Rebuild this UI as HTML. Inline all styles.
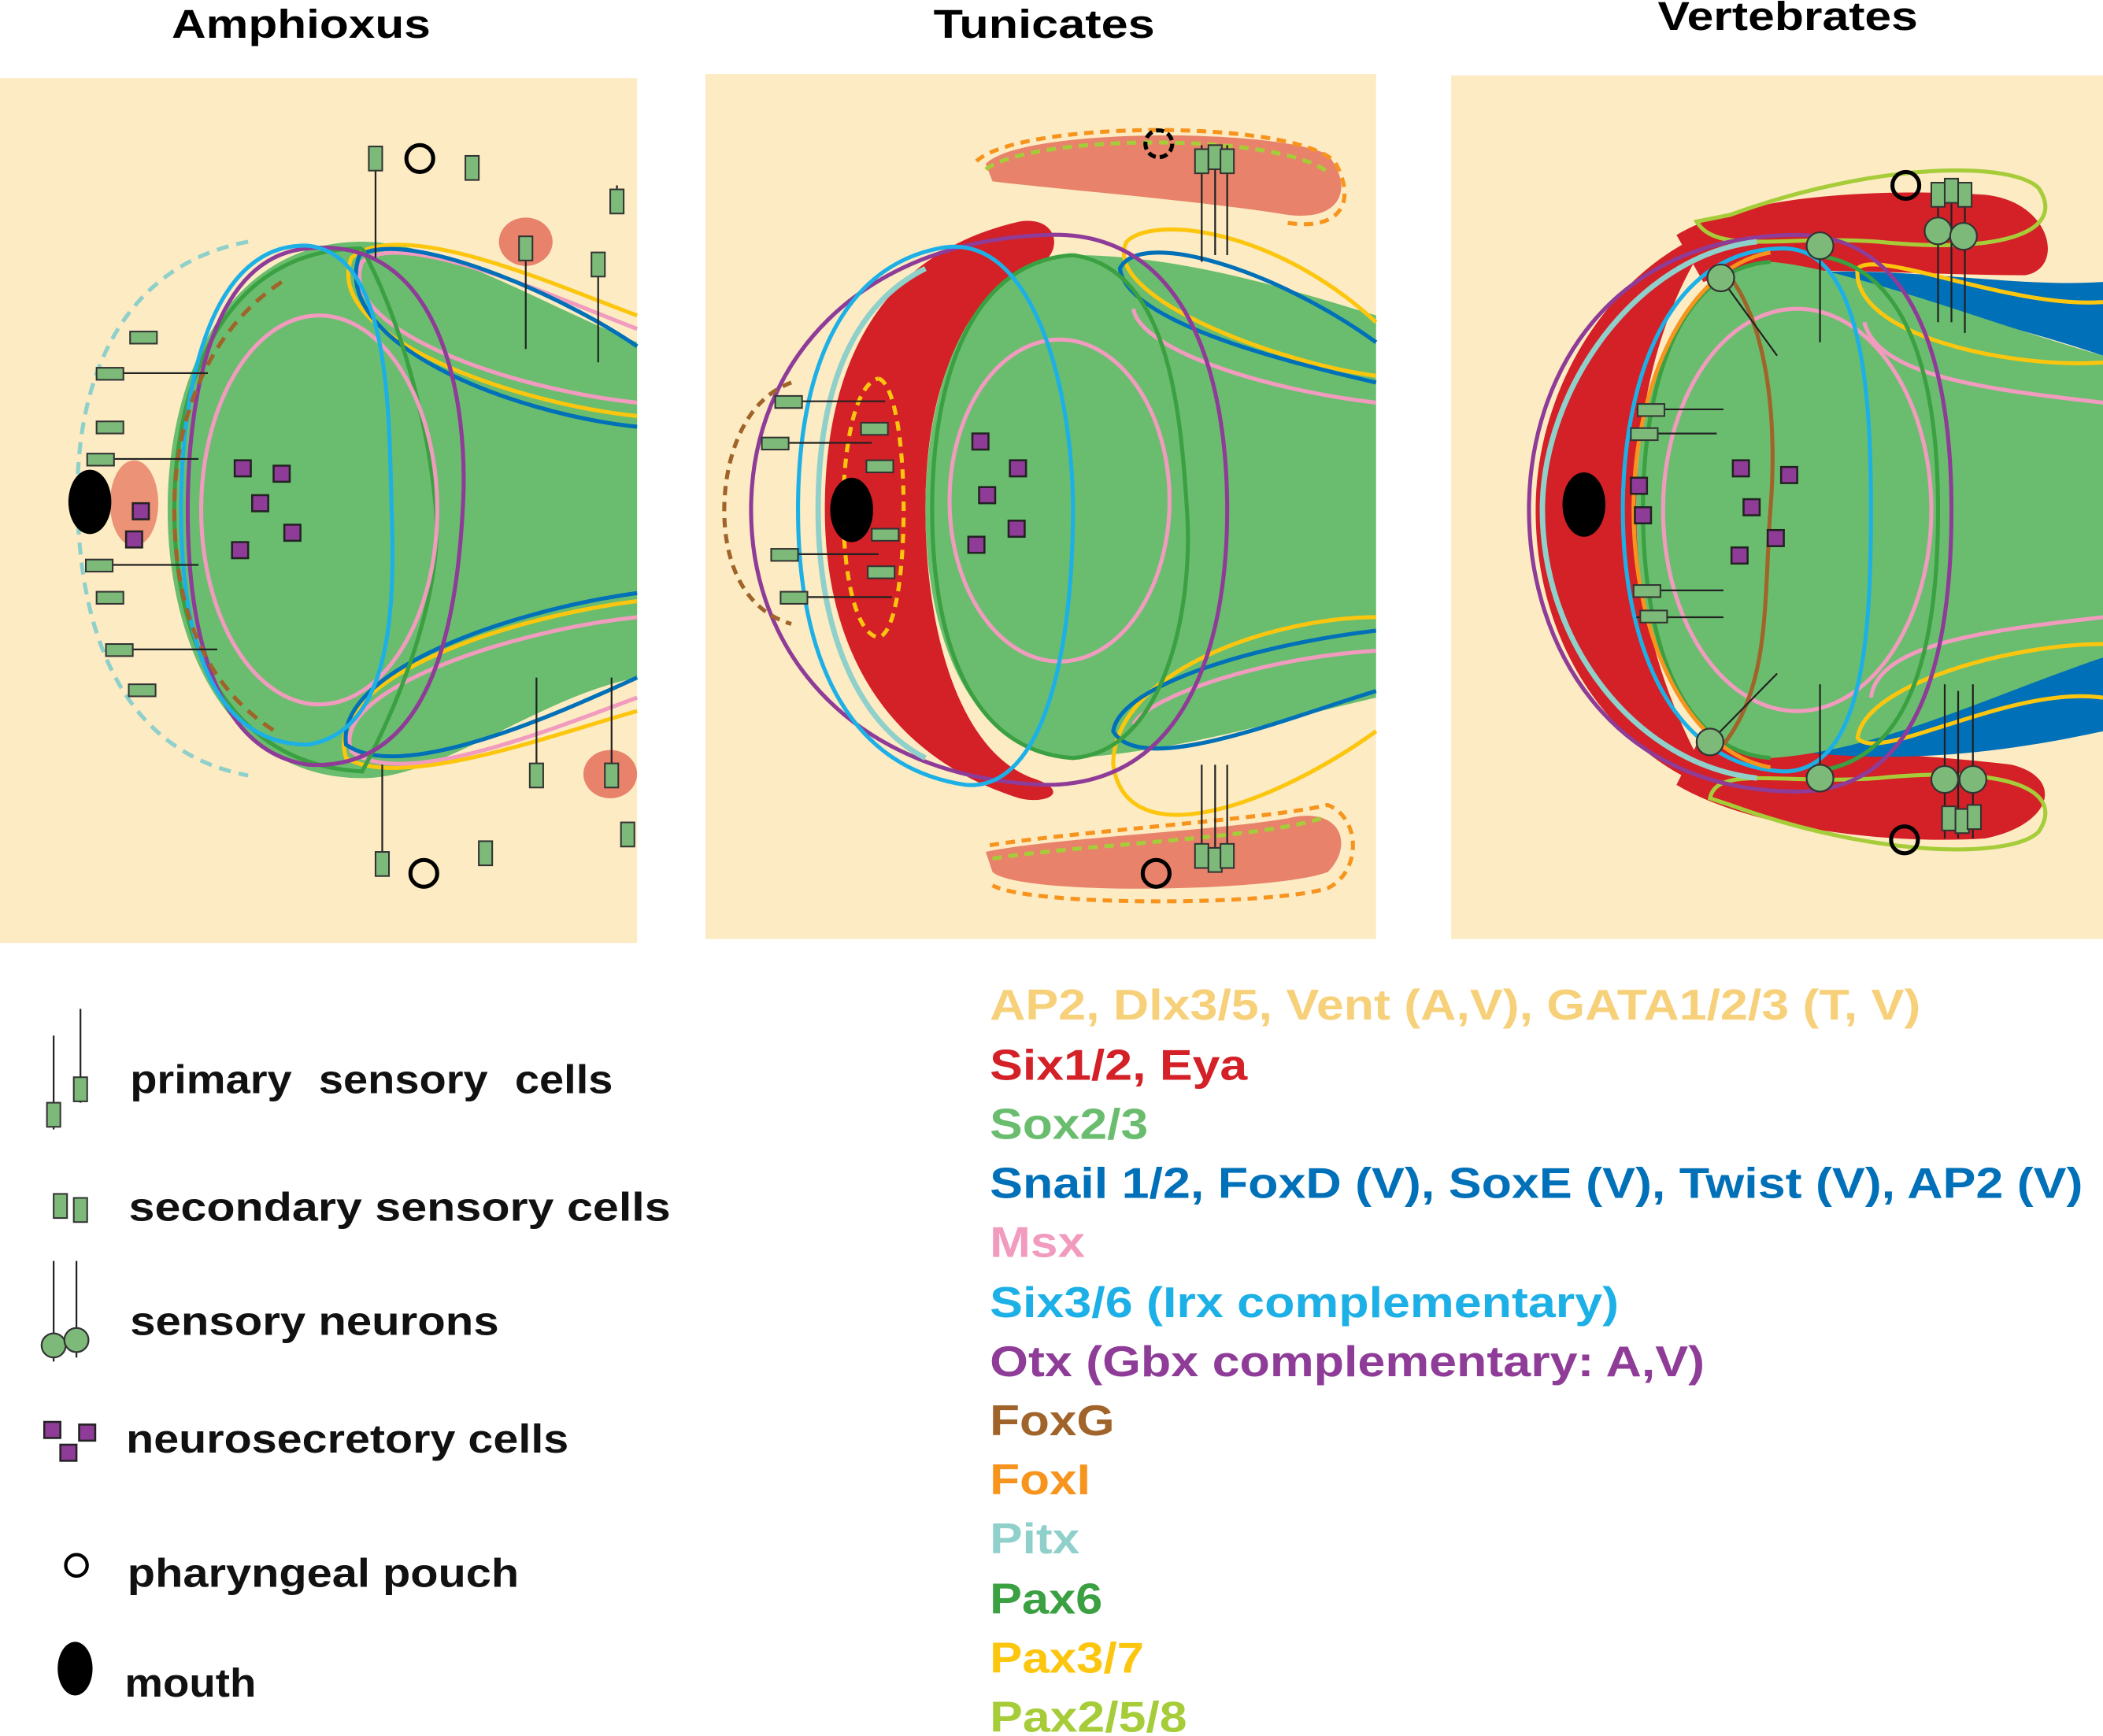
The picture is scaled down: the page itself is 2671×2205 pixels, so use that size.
<!DOCTYPE html>
<html><head><meta charset="utf-8"><style>
html,body{margin:0;padding:0;background:#fff;}
svg{display:block;}
text{font-family:"Liberation Sans",Arial,sans-serif;font-weight:bold;}
</style></head><body>
<svg width="2671" height="2205" viewBox="0 0 1568 1294" xmlns="http://www.w3.org/2000/svg">
<defs>
<g id="sc"><rect x="-5" y="-9" width="10" height="18" fill="#7dba7a" stroke="#333" stroke-width="1.2"/></g>
<g id="hc"><rect x="-10" y="-4" width="20" height="9" fill="#7dba7a" stroke="#333" stroke-width="1.2"/></g>
<g id="ns"><rect x="-6" y="-6" width="12" height="12" fill="#8e3c97" stroke="#222" stroke-width="1.5"/></g>
</defs>
<rect width="1568" height="1294" fill="#fff"/>
<text x="128" y="28" font-size="30" textLength="193" lengthAdjust="spacingAndGlyphs">Amphioxus</text>
<text x="696" y="28" font-size="30" textLength="165" lengthAdjust="spacingAndGlyphs">Tunicates</text>
<text x="1236" y="22" font-size="30" textLength="194" lengthAdjust="spacingAndGlyphs">Vertebrates</text>

<!-- Amphioxus panel -->
<rect x="0" y="58" width="475" height="645" fill="#fcebc3"/>
<g fill="none" stroke-width="3">
<path d="M185,180 C80,200 55,300 58,380 C60,470 90,560 185,578" stroke="#8fd0cb" stroke-dasharray="9,6"/>
<ellipse cx="100" cy="375" rx="18" ry="32" fill="#e8826a" stroke="none" opacity="0.85"/>
<path d="M475,255 C400,225 330,180 270,180 C170,180 125,280 125,380 C125,480 170,580 270,580 C330,580 400,520 475,505 Z" fill="#6abd6e" stroke="none"/>
<path d="M475,300 C380,290 250,245 270,195 C300,170 410,220 475,245" stroke="#f19bbf"/>
<path d="M475,310 C380,300 240,250 262,192 C300,160 420,215 475,235" stroke="#fcc60f"/>
<path d="M475,318 C380,308 245,255 268,190 C305,170 420,220 475,258" stroke="#0070b8"/>
<path d="M475,460 C380,470 245,515 262,560 C300,590 420,540 475,520" stroke="#f19bbf"/>
<path d="M475,448 C380,460 240,505 258,565 C300,590 420,545 475,530" stroke="#fcc60f"/>
<path d="M475,442 C380,455 250,500 258,555 C300,585 420,530 475,505" stroke="#0070b8"/>
<path d="M270,185 C170,185 130,280 130,380 C130,480 170,570 270,575 C300,520 330,440 325,380 C320,320 300,240 270,185" stroke="#3aa041"/>
<ellipse cx="238" cy="380" rx="88" ry="145" stroke="#f19bbf"/>
<path d="M230,185 C330,175 350,300 345,380 C340,470 320,575 230,570 C160,560 140,470 140,380 C140,290 160,190 230,185" stroke="#8e3c97"/>
<path d="M230,183 C160,180 135,280 135,380 C135,480 160,555 230,555 C290,545 295,460 292,380 C290,300 290,190 230,183" stroke="#1db0e6"/>
<path d="M210,210 C150,250 130,320 130,380 C130,450 150,510 205,545" stroke="#a0642a" stroke-dasharray="9,6"/>
</g>
<ellipse cx="67" cy="374" rx="16" ry="24" fill="#000"/>
<ellipse cx="392" cy="180" rx="20" ry="18" fill="#e8826a"/>
<ellipse cx="455" cy="577" rx="20" ry="18" fill="#e8826a"/>
<g stroke="#222" stroke-width="1.3">
<line x1="280" y1="118" x2="280" y2="192"/><line x1="392" y1="182" x2="392" y2="260"/><line x1="446" y1="198" x2="446" y2="270"/><line x1="460" y1="138" x2="460" y2="150"/>
<line x1="285" y1="570" x2="285" y2="644"/><line x1="400" y1="505" x2="400" y2="578"/><line x1="456" y1="505" x2="456" y2="578"/>
<line x1="80" y1="278" x2="155" y2="278"/><line x1="75" y1="342" x2="148" y2="342"/><line x1="75" y1="421" x2="148" y2="421"/><line x1="90" y1="484" x2="162" y2="484"/>
</g>
<g>
<use href="#sc" x="280" y="118"/><use href="#sc" x="352" y="125"/><use href="#sc" x="392" y="185"/><use href="#sc" x="446" y="197"/><use href="#sc" x="460" y="150"/>
<use href="#sc" x="285" y="644"/><use href="#sc" x="362" y="636"/><use href="#sc" x="400" y="578"/><use href="#sc" x="456" y="578"/><use href="#sc" x="468" y="622"/>
<use href="#hc" x="107" y="251"/><use href="#hc" x="82" y="278"/><use href="#hc" x="82" y="318"/><use href="#hc" x="75" y="342"/><use href="#hc" x="74" y="421"/><use href="#hc" x="82" y="445"/><use href="#hc" x="89" y="484"/><use href="#hc" x="106" y="514"/>
<use href="#ns" x="181" y="349"/><use href="#ns" x="210" y="353"/><use href="#ns" x="194" y="375"/><use href="#ns" x="218" y="397"/><use href="#ns" x="179" y="410"/><use href="#ns" x="105" y="381"/><use href="#ns" x="100" y="402"/>
</g>
<circle cx="313" cy="118" r="10" fill="none" stroke="#000" stroke-width="3"/>
<circle cx="316" cy="651" r="10" fill="none" stroke="#000" stroke-width="3"/>

<!-- Tunicates panel -->
<rect x="526" y="55" width="500" height="645" fill="#fcebc3"/>
<g fill="none" stroke-width="3">
<path d="M735,122 C760,95 950,95 990,115 C1010,140 1000,165 960,160 C900,150 780,140 740,135 Z" fill="#e8826a" stroke="none"/>
<path d="M728,120 C760,90 960,88 995,120 C1012,150 1000,172 960,166" stroke="#f7941d" stroke-dasharray="7,5"/>
<path d="M735,126 C770,100 950,98 990,128" stroke="#a6cd39" stroke-dasharray="7,5"/>
<path d="M735,635 C780,625 900,620 960,610 C1000,600 1010,630 990,650 C950,665 760,668 740,650 Z" fill="#e8826a" stroke="none"/>
<path d="M738,630 C800,620 950,610 990,600 C1015,610 1015,650 990,662 C950,675 770,676 740,660" stroke="#f7941d" stroke-dasharray="7,5"/>
<path d="M740,640 C800,630 940,625 985,610" stroke="#a6cd39" stroke-dasharray="7,5"/>
<path d="M760,165 C790,160 795,190 770,200 C710,230 690,300 690,380 C690,470 715,560 770,580 C800,590 780,600 760,595 C650,560 615,470 615,380 C615,280 650,190 760,165 Z" fill="#d42027" stroke="none"/>
<path d="M1026,235 C960,215 880,190 800,190 C720,195 690,290 690,380 C690,470 720,560 800,565 C880,560 960,535 1026,520 Z" fill="#6abd6e" stroke="none"/>
<path d="M1026,240 C950,170 860,160 840,180 C820,220 950,270 1026,280" stroke="#fcc60f"/>
<path d="M1026,255 C950,200 850,170 835,200 C840,240 960,270 1026,285" stroke="#0070b8"/>
<path d="M1026,300 C940,290 850,260 845,230" stroke="#f19bbf"/>
<path d="M1026,460 C950,460 830,500 830,570 C840,640 950,600 1026,545" stroke="#fcc60f"/>
<path d="M1026,470 C940,480 835,510 830,545 C850,580 960,535 1026,515" stroke="#0070b8"/>
<path d="M1026,485 C940,490 855,520 845,540" stroke="#f19bbf"/>
<path d="M800,190 C720,195 695,290 695,380 C695,470 720,560 800,565 C870,560 890,450 885,380 C880,300 870,200 800,190" stroke="#3aa041"/>
<ellipse cx="790" cy="373" rx="82" ry="120" stroke="#f19bbf"/>
<path d="M780,175 C890,170 915,290 915,380 C915,470 890,585 780,585 C640,580 560,490 560,380 C560,270 640,180 780,175" stroke="#8e3c97"/>
<path d="M700,185 C770,170 800,290 800,380 C800,480 780,590 720,585 C620,570 595,470 595,380 C595,280 625,200 700,185" stroke="#1db0e6"/>
<path d="M690,200 C630,230 610,300 610,380 C610,470 640,540 690,565" stroke="#8fd0cb" stroke-width="4"/>
<path d="M590,285 C550,300 540,350 540,380 C540,420 555,455 590,465" stroke="#a0642a" stroke-dasharray="7,5"/>
<path d="M655,282 C680,290 680,470 655,475 C620,470 620,290 655,282" stroke="#fcc60f" stroke-dasharray="7,5"/>
</g>
<ellipse cx="635" cy="380" rx="16" ry="24" fill="#000"/>
<g stroke="#222" stroke-width="1.3">
<line x1="896" y1="108" x2="896" y2="195"/><line x1="906" y1="108" x2="906" y2="190"/><line x1="915" y1="108" x2="915" y2="190"/>
<line x1="896" y1="570" x2="896" y2="645"/><line x1="906" y1="570" x2="906" y2="645"/><line x1="915" y1="570" x2="915" y2="645"/>
<line x1="588" y1="299" x2="660" y2="299"/><line x1="578" y1="330" x2="650" y2="330"/><line x1="585" y1="413" x2="655" y2="413"/><line x1="592" y1="445" x2="665" y2="445"/>
</g>
<g>
<use href="#sc" x="896" y="120"/><use href="#sc" x="906" y="117"/><use href="#sc" x="915" y="120"/>
<use href="#sc" x="896" y="638"/><use href="#sc" x="906" y="641"/><use href="#sc" x="915" y="638"/>
<use href="#hc" x="588" y="299"/><use href="#hc" x="578" y="330"/><use href="#hc" x="652" y="319"/><use href="#hc" x="656" y="347"/><use href="#hc" x="660" y="398"/><use href="#hc" x="657" y="426"/><use href="#hc" x="585" y="413"/><use href="#hc" x="592" y="445"/>
<use href="#ns" x="731" y="329"/><use href="#ns" x="759" y="349"/><use href="#ns" x="736" y="369"/><use href="#ns" x="758" y="394"/><use href="#ns" x="728" y="406"/>
</g>
<circle cx="864" cy="107" r="10" fill="none" stroke="#000" stroke-width="3" stroke-dasharray="6,3"/>
<circle cx="862" cy="651" r="10" fill="none" stroke="#000" stroke-width="3"/>

<!-- Vertebrates panel -->
<rect x="1082" y="56" width="486" height="644" fill="#fcebc3"/>
<g fill="none" stroke-width="3">
<path d="M1250,175 C1300,145 1400,140 1480,145 C1530,150 1540,200 1510,205 C1420,205 1320,195 1270,210 Z" fill="#d42027" stroke="none"/>
<path d="M1250,585 C1300,615 1400,630 1480,625 C1530,615 1540,580 1500,570 C1420,560 1320,560 1270,545 Z" fill="#d42027" stroke="none"/>
<path d="M1280,170 C1200,200 1145,290 1145,380 C1145,480 1200,560 1280,590 C1250,540 1220,470 1220,380 C1220,290 1245,215 1280,170 Z" fill="#d42027" stroke="none"/>
<path d="M1568,210 C1500,215 1400,195 1330,205 C1350,215 1450,225 1568,265 Z" fill="#0070b8" stroke="none"/>
<path d="M1568,490 C1470,520 1390,560 1340,560 C1420,570 1500,560 1568,545 Z" fill="#0070b8" stroke="none"/>
<path d="M1568,265 C1480,240 1380,200 1320,195 C1250,200 1220,290 1220,380 C1220,470 1250,560 1320,565 C1400,560 1480,520 1568,490 Z" fill="#6abd6e" stroke="none"/>
<path d="M1568,225 C1500,230 1400,185 1385,200 C1380,250 1500,275 1568,270" stroke="#fcc60f"/>
<path d="M1568,300 C1480,290 1400,280 1390,240" stroke="#f19bbf"/>
<path d="M1568,520 C1500,510 1400,570 1385,550 C1390,510 1500,480 1568,480" stroke="#fcc60f"/>
<path d="M1568,460 C1480,470 1400,480 1395,520" stroke="#f19bbf"/>
<path d="M1290,160 C1400,120 1500,120 1520,140 C1540,170 1500,190 1400,180 C1330,175 1280,190 1265,165 Z" stroke="#a6cd39"/>
<path d="M1290,600 C1400,640 1500,640 1520,620 C1540,590 1500,570 1400,580 C1330,585 1280,570 1275,595 Z" stroke="#a6cd39"/>
<ellipse cx="1340" cy="380" rx="100" ry="150" stroke="#f19bbf"/>
<path d="M1340,175 C1440,175 1455,300 1455,380 C1455,470 1440,590 1340,590 C1200,590 1140,480 1140,380 C1140,280 1200,175 1340,175" stroke="#8e3c97"/>
<path d="M1330,185 C1390,185 1395,300 1395,380 C1395,470 1390,575 1330,575 C1240,570 1210,470 1210,380 C1210,290 1240,185 1330,185" stroke="#1db0e6"/>
<path d="M1320,195 C1250,200 1225,290 1225,380 C1225,470 1250,560 1320,565" stroke="#3aa041"/>
<path d="M1350,190 C1430,195 1445,300 1445,380 C1445,470 1430,570 1350,575" stroke="#3aa041"/>
<path d="M1285,200 C1320,240 1325,320 1320,380 C1315,450 1320,510 1285,555" stroke="#a0642a"/>
<path d="M1310,180 C1220,190 1150,290 1150,380 C1150,480 1220,570 1310,580" stroke="#8fd0cb" stroke-width="4"/>
<path d="M1320,188 C1255,200 1218,290 1218,380 C1218,470 1255,560 1320,572" stroke="#f7941d"/>
</g>
<ellipse cx="1181" cy="376" rx="16" ry="24" fill="#000"/>
<g stroke="#222" stroke-width="1.3">
<line x1="1445" y1="142" x2="1445" y2="240"/><line x1="1455" y1="142" x2="1455" y2="240"/><line x1="1465" y1="142" x2="1465" y2="248"/>
<line x1="1450" y1="510" x2="1450" y2="625"/><line x1="1460" y1="515" x2="1460" y2="625"/><line x1="1471" y1="510" x2="1471" y2="625"/>
<line x1="1283" y1="207" x2="1325" y2="265"/><line x1="1357" y1="183" x2="1357" y2="255"/>
<line x1="1275" y1="553" x2="1325" y2="502"/><line x1="1357" y1="580" x2="1357" y2="510"/>
<line x1="1220" y1="305" x2="1285" y2="305"/><line x1="1220" y1="323" x2="1280" y2="323"/><line x1="1220" y1="440" x2="1285" y2="440"/><line x1="1220" y1="460" x2="1285" y2="460"/>
</g>
<g>
<use href="#sc" x="1445" y="145"/><use href="#sc" x="1455" y="142"/><use href="#sc" x="1465" y="145"/>
<use href="#sc" x="1453" y="610"/><use href="#sc" x="1463" y="612"/><use href="#sc" x="1472" y="609"/>
<use href="#hc" x="1231" y="305"/><use href="#hc" x="1226" y="323"/><use href="#hc" x="1228" y="440"/><use href="#hc" x="1233" y="459"/>
<use href="#ns" x="1222" y="362"/><use href="#ns" x="1225" y="384"/><use href="#ns" x="1298" y="349"/><use href="#ns" x="1334" y="354"/><use href="#ns" x="1306" y="378"/><use href="#ns" x="1324" y="401"/><use href="#ns" x="1297" y="414"/>
</g>
<g fill="#7dba7a" stroke="#333" stroke-width="1.3">
<circle cx="1283" cy="207" r="10"/><circle cx="1357" cy="183" r="10"/><circle cx="1445" cy="172" r="10"/><circle cx="1464" cy="176" r="10"/>
<circle cx="1275" cy="553" r="10"/><circle cx="1357" cy="580" r="10"/><circle cx="1450" cy="581" r="10"/><circle cx="1471" cy="581" r="10"/>
</g>
<circle cx="1421" cy="138" r="10" fill="none" stroke="#000" stroke-width="3"/>
<circle cx="1420" cy="626" r="10" fill="none" stroke="#000" stroke-width="3"/>

<!-- Left legend -->
<g stroke="#222" stroke-width="1.3">
<line x1="40" y1="772" x2="40" y2="842"/><line x1="60" y1="752" x2="60" y2="822"/>
<line x1="40" y1="940" x2="40" y2="1015"/><line x1="57" y1="940" x2="57" y2="1012"/>
</g>
<use href="#sc" x="40" y="831"/><use href="#sc" x="60" y="812"/>
<use href="#sc" x="45" y="899"/><use href="#sc" x="60" y="902"/>
<g fill="#7dba7a" stroke="#333" stroke-width="1.3"><circle cx="40" cy="1003" r="9"/><circle cx="57" cy="999" r="9"/></g>
<use href="#ns" x="39" y="1066"/><use href="#ns" x="65" y="1068"/><use href="#ns" x="51" y="1083"/>
<circle cx="57" cy="1167" r="8" fill="none" stroke="#000" stroke-width="2.5"/>
<ellipse cx="56" cy="1244" rx="13" ry="20" fill="#000"/>
<g font-size="30" fill="#111">
<text x="97" y="815" textLength="360" lengthAdjust="spacingAndGlyphs" style="word-spacing:10px">primary  sensory  cells</text>
<text x="96" y="910" textLength="404" lengthAdjust="spacingAndGlyphs">secondary  sensory  cells</text>
<text x="97" y="995" textLength="275" lengthAdjust="spacingAndGlyphs">sensory  neurons</text>
<text x="94" y="1083" textLength="330" lengthAdjust="spacingAndGlyphs">neurosecretory  cells</text>
<text x="95" y="1183" textLength="292" lengthAdjust="spacingAndGlyphs">pharyngeal  pouch</text>
<text x="93" y="1265" textLength="98" lengthAdjust="spacingAndGlyphs">mouth</text>
</g>

<!-- Right legend -->
<g font-size="32">
<text x="738" y="760" fill="#f7d07a" textLength="694" lengthAdjust="spacingAndGlyphs">AP2, Dlx3/5, Vent (A,V), GATA1/2/3 (T, V)</text>
<text x="738" y="805" fill="#d42027" textLength="192" lengthAdjust="spacingAndGlyphs">Six1/2, Eya</text>
<text x="738" y="849" fill="#6abd6e" textLength="118" lengthAdjust="spacingAndGlyphs">Sox2/3</text>
<text x="738" y="893" fill="#0070b8" textLength="815" lengthAdjust="spacingAndGlyphs">Snail 1/2, FoxD (V), SoxE (V), Twist (V), AP2 (V)</text>
<text x="738" y="937" fill="#f19bbf" textLength="71" lengthAdjust="spacingAndGlyphs">Msx</text>
<text x="738" y="982" fill="#1db0e6" textLength="469" lengthAdjust="spacingAndGlyphs">Six3/6 (Irx complementary)</text>
<text x="738" y="1026" fill="#8e3c97" textLength="533" lengthAdjust="spacingAndGlyphs">Otx (Gbx complementary: A,V)</text>
<text x="738" y="1070" fill="#a0642a" textLength="93" lengthAdjust="spacingAndGlyphs">FoxG</text>
<text x="738" y="1114" fill="#f7941d" textLength="75" lengthAdjust="spacingAndGlyphs">FoxI</text>
<text x="738" y="1158" fill="#8fd0cb" textLength="67" lengthAdjust="spacingAndGlyphs">Pitx</text>
<text x="738" y="1203" fill="#3aa041" textLength="84" lengthAdjust="spacingAndGlyphs">Pax6</text>
<text x="738" y="1247" fill="#fcc60f" textLength="115" lengthAdjust="spacingAndGlyphs">Pax3/7</text>
<text x="738" y="1291" fill="#a6cd39" textLength="147" lengthAdjust="spacingAndGlyphs">Pax2/5/8</text>
</g>
</svg>
</body></html>
